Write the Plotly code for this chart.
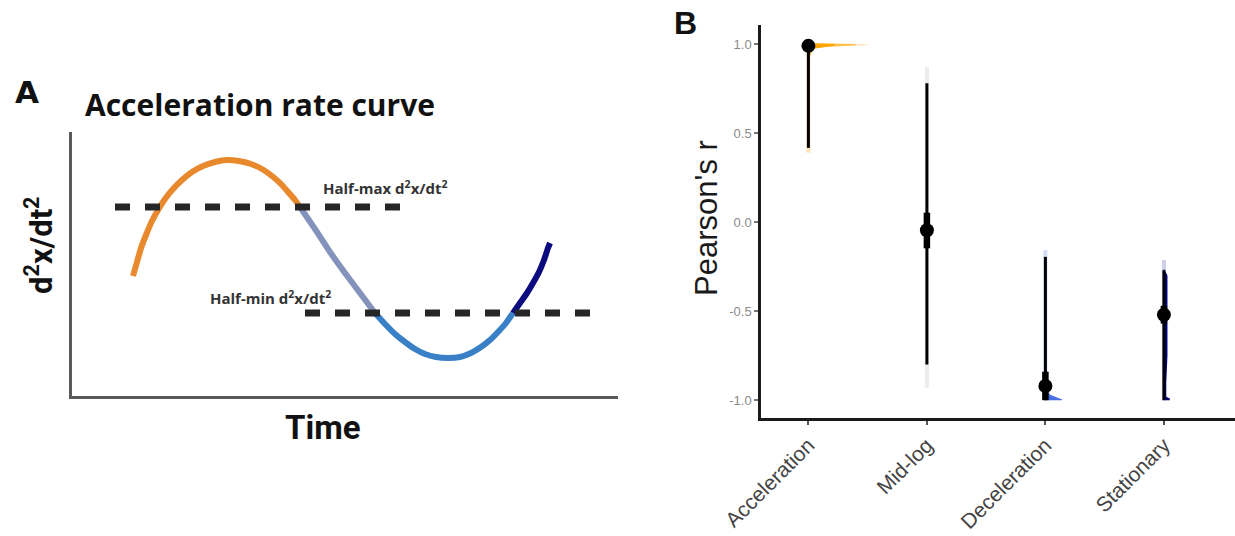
import plotly.graph_objects as go

W, H = 1235, 536

# ---------------- Panel A data (illustrative curve) ----------------
orange_t = [61, 65, 69, 74, 80, 86, 93, 101, 110, 120, 131, 143, 155, 167, 179, 190, 200, 209, 217, 223, 228]
orange_y = [120, 134, 148, 161, 175, 186, 197, 207, 216, 224, 230, 234, 236, 235, 232, 227, 220, 212, 203, 196, 189]
grey_t = [228, 243, 258, 273, 288, 303]
grey_y = [189, 167, 144, 123, 103, 83]
blue_t = [303, 313, 323, 333, 343, 353, 364, 376, 388, 399, 409, 418, 426, 434, 441]
blue_y = [83, 72, 62, 54, 47, 42, 39, 38, 39, 43, 49, 56, 64, 73, 83]
navy_t = [441, 448, 455, 461, 467, 472, 476, 478]
navy_y = [83, 93, 103, 113, 124, 136, 148, 153]
halfmax_t = [43, 328]
halfmax_y = [189, 189]
halfmin_t = [233, 521]
halfmin_y = [83, 83]

# ---------------- Panel B data ----------------
categories = ["Acceleration", "Mid-log", "Deceleration", "Stationary"]
point_r = [0.99, -0.046, -0.92, -0.52]
thick_lo = [0.96, -0.147, -1.0, -0.57]
thick_hi = [1.0, 0.053, -0.84, -0.47]
thin_lo = [0.417, -0.80, -1.0, -1.0]
thin_hi = [1.0, 0.78, -0.195, -0.27]
outer_lo = [0.39, -0.93, -1.0, -1.0]
outer_hi = [1.0, 0.87, -0.157, -0.213]
outer_colors = ["#FFE2B5", "#EDEDED", "#D3DDF8", "#CFCFEA"]

slab_acc_v = [0.89, 0.95, 0.975, 0.985, 0.99, 0.995, 1.0, 1.005]
slab_acc_w = [0.0, 0.02, 0.05, 0.15, 0.35, 0.53, 0.45, 0.0]
slab_dec_v = [-1.0, -0.995, -0.99, -0.98, -0.97, -0.95, -0.9]
slab_dec_w = [0.14, 0.14, 0.12, 0.07, 0.04, 0.02, 0.0]
slab_sta_v = [-1.0, -0.99, -0.98, -0.9, -0.75, -0.6, -0.45, -0.3, -0.26]
slab_sta_w = [0.05, 0.05, 0.02, 0.02, 0.03, 0.03, 0.035, 0.03, 0.0]

ytick_vals = [-1.0, -0.5, 0.0, 0.5, 1.0]
ytick_text = ["-1.0", "-0.5", "0.0", "0.5", "1.0"]


def PX(x):
    return x / W


def PY(y):
    return 1 - y / H


fig = go.Figure()

# Panel A curve
for t, y, c in [(orange_t, orange_y, "#E8892E"), (grey_t, grey_y, "#8493BB"),
                (blue_t, blue_y, "#3A80C6"), (navy_t, navy_y, "#0C0C80")]:
    fig.add_trace(go.Scatter(x=t, y=y, mode="lines",
                             line=dict(color=c, width=6, shape="spline", smoothing=0.5),
                             xaxis="x", yaxis="y", hoverinfo="skip", showlegend=False))
for t, y in [(halfmax_t, halfmax_y), (halfmin_t, halfmin_y)]:
    fig.add_trace(go.Scatter(x=t, y=y, mode="lines", line=dict(color="#262626", width=7, dash="15px,15px"),
                             xaxis="x", yaxis="y", hoverinfo="skip", showlegend=False))

# Panel B
pos = [1, 2, 3, 4]
for i in range(4):
    fig.add_trace(go.Scatter(x=[pos[i], pos[i]], y=[outer_lo[i], outer_hi[i]], mode="lines",
                             line=dict(color=outer_colors[i], width=4), xaxis="x2", yaxis="y2",
                             hoverinfo="skip", showlegend=False))


def slab(ci, vs, ws, color, cap=None):
    xs = [pos[ci] + (min(w, cap) if cap is not None else w) for w in ws]
    xs = xs + [pos[ci], pos[ci]]
    ys = list(vs) + [vs[-1], vs[0]]
    fig.add_trace(go.Scatter(x=xs, y=ys, mode="lines", fill="toself", fillcolor=color,
                             line=dict(width=0, color=color), xaxis="x2", yaxis="y2",
                             hoverinfo="skip", showlegend=False))


slab(0, slab_acc_v, slab_acc_w, "#FFE2B0")
slab(0, slab_acc_v, slab_acc_w, "#FFC04D", cap=0.40)
slab(0, slab_acc_v, slab_acc_w, "#FFA500", cap=0.22)
slab(2, slab_dec_v, slab_dec_w, "#4A6FE3")
slab(3, slab_sta_v, slab_sta_w, "#00007A")

for i in range(4):
    fig.add_trace(go.Scatter(x=[pos[i], pos[i]], y=[thin_lo[i], thin_hi[i]], mode="lines",
                             line=dict(color="#000000", width=3), xaxis="x2", yaxis="y2",
                             hoverinfo="skip", showlegend=False))
    fig.add_trace(go.Scatter(x=[pos[i], pos[i]], y=[thick_lo[i], thick_hi[i]], mode="lines",
                             line=dict(color="#000000", width=6.5), xaxis="x2", yaxis="y2",
                             hoverinfo="skip", showlegend=False))
fig.add_trace(go.Scatter(x=pos, y=point_r, mode="markers", marker=dict(color="#000000", size=14),
                         xaxis="x2", yaxis="y2", hoverinfo="skip", showlegend=False))

fig.update_layout(
    width=W, height=H, margin=dict(l=0, r=0, t=0, b=0, autoexpand=False),
    paper_bgcolor="white", plot_bgcolor="white", showlegend=False,
    xaxis=dict(domain=[PX(72), PX(618)], range=[0, 546], showline=True, linecolor="#5a5a5a",
               linewidth=3, showticklabels=False, ticks="", showgrid=False, zeroline=False,
               fixedrange=True, automargin=False),
    yaxis=dict(domain=[PY(396), PY(132)], range=[0, 264], showline=True, linecolor="#5a5a5a",
               linewidth=3, showticklabels=False, ticks="", showgrid=False, zeroline=False,
               anchor="x", fixedrange=True, automargin=False),
    xaxis2=dict(domain=[PX(761), 1.0], range=[0.6, 4.6], showline=True, linecolor="#1a1a1a",
                linewidth=2.5, tickvals=pos, ticktext=categories, tickangle=-45,
                ticks="outside", ticklen=4, tickcolor="#555", tickwidth=1.5,
                tickfont=dict(family="Liberation Sans, Arial", size=21, color="#444444"),
                showgrid=False, zeroline=False, anchor="y2", fixedrange=True, automargin=False),
    yaxis2=dict(domain=[PY(418), PY(25)], range=[-1.1, 1.107], showline=True, linecolor="#1a1a1a",
                linewidth=2.5, tickvals=ytick_vals, ticktext=ytick_text,
                ticks="outside", ticklen=4, tickcolor="#777", tickwidth=1.5,
                tickfont=dict(family="Liberation Sans, Arial", size=13, color="#8a8a8a"),
                showgrid=False, zeroline=False, anchor="x2", fixedrange=True, automargin=False),
)

ann = []


def A(text, x, y, size, family="Open Sans", bold=True, color="#111", angle=0, xanchor="center"):
    ann.append(dict(text=text, x=PX(x), y=PY(y), xref="paper", yref="paper", showarrow=False,
                    xanchor=xanchor, yanchor="middle", textangle=angle,
                    font=dict(family=family, size=size, color=color,
                              weight="bold" if bold else "normal")))


A("A", 27, 92, 31, family="DejaVu Sans")
A("Acceleration rate curve", 83, 104, 30, xanchor="left")
A("d<sup>2</sup>x/dt<sup>2</sup>", 39, 245, 31, family="Roboto", angle=-90)
A("Time", 323, 427, 33, family="Roboto")
A("Half-max d<sup>2</sup>x/dt<sup>2</sup>", 385, 187, 15, color="#333")
A("Half-min d<sup>2</sup>x/dt<sup>2</sup>", 270, 297, 15, color="#333")
A("B", 685, 23, 32, family="Liberation Sans, Arial")
A("Pearson's r", 706, 218, 31, family="Liberation Sans, Arial", bold=False, color="#1a1a1a", angle=-90)
fig.update_layout(annotations=ann)

fig.write_html("out.html")
